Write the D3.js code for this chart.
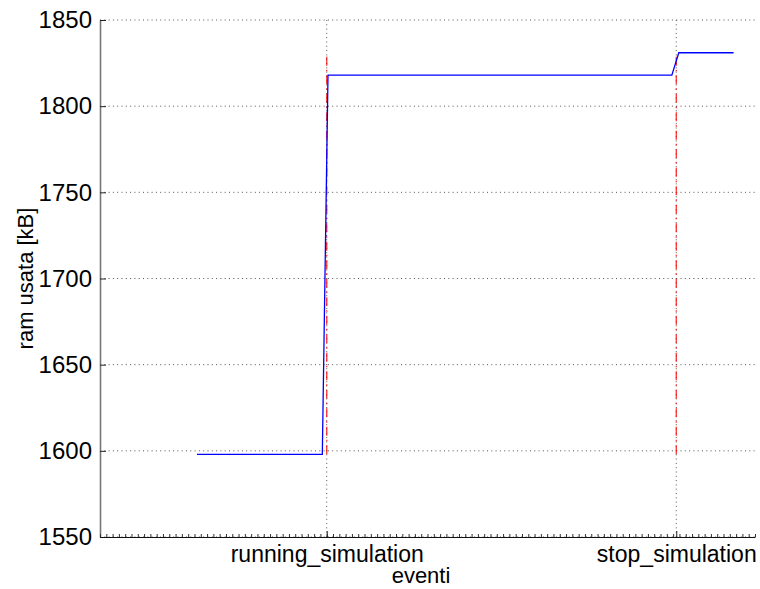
<!DOCTYPE html>
<html>
<head>
<meta charset="utf-8">
<script src="https://cdn.jsdelivr.net/npm/d3@7/dist/d3.min.js"></script>
<style>
  html, body { margin: 0; padding: 0; background: #fff; }
  svg { display: block; font-family: "Liberation Sans", Arial, Helvetica, sans-serif; }
</style>
</head>
<body>
<svg id="chart" width="760" height="589"></svg>
<script>
// Memory usage over time, with the simulation events marked on the x axis
const sampleTimes = [15.4, 35.3, 36.2, 90.8, 91.9, 100.6];
const ramUsed     = [1598, 1598, 1818, 1818, 1831, 1831];
const eventNames  = ["running_simulation", "stop_simulation"];
const eventTimes  = [36, 91.5];
const yTicks      = [1550, 1600, 1650, 1700, 1750, 1800, 1850];
const xDomain     = [0, 104];
const yDomain     = [1550, 1850];

const svg = d3.select("#chart");
const plotLeft = 100, plotRight = 755, plotTop = 20, plotBottom = 537;
const fontStack = "Liberation Sans, Arial, sans-serif";

const x = d3.scaleLinear().domain(xDomain).range([plotLeft, plotRight]);
const y = d3.scaleLinear().domain(yDomain).range([plotBottom, plotTop]);

// horizontal grid
svg.append("g")
  .selectAll("line")
  .data(yTicks)
  .join("line")
  .attr("x1", plotLeft).attr("x2", plotRight)
  .attr("y1", d => y(d)).attr("y2", d => y(d))
  .attr("stroke", "#555").attr("stroke-width", 1)
  .attr("stroke-dasharray", "1,3.3");

// vertical grid at event ticks
svg.append("g")
  .selectAll("line")
  .data(eventTimes)
  .join("line")
  .attr("x1", d => x(d)).attr("x2", d => x(d))
  .attr("y1", plotBottom).attr("y2", plotTop)
  .attr("stroke", "#555").attr("stroke-width", 1)
  .attr("stroke-dasharray", "1,3.3");

// event markers spanning the data range
const yMin = d3.min(ramUsed), yMax = d3.max(ramUsed);
svg.append("g")
  .selectAll("line")
  .data(eventTimes)
  .join("line")
  .attr("x1", d => x(d)).attr("x2", d => x(d))
  .attr("y1", y(yMin)).attr("y2", y(yMax))
  .attr("stroke", "#f00").attr("stroke-width", 1.3)
  .attr("stroke-opacity", 0.8)
  .attr("stroke-dasharray", "9,4,1.5,4");

// memory trace
svg.append("path")
  .datum(sampleTimes.map((t, i) => [t, ramUsed[i]]))
  .attr("fill", "none")
  .attr("stroke", "#00f")
  .attr("stroke-width", 1.3)
  .attr("d", d3.line().x(d => x(d[0])).y(d => y(d[1])));

// y axis
const yAxis = d3.axisLeft(y).tickValues(yTicks).tickFormat(d3.format("d"))
  .tickSizeInner(-6).tickSizeOuter(0).tickPadding(8);
const gy = svg.append("g").attr("transform", `translate(${plotLeft},0)`).call(yAxis);
gy.select(".domain").attr("stroke", "#777").attr("stroke-width", 1.6);
gy.selectAll(".tick line").attr("stroke", "#222");
gy.selectAll("text").attr("font-size", 24).attr("fill", "#000")
  .attr("font-family", fontStack);

// x axis: minor ticks then event ticks
const minor = d3.range(Math.ceil(xDomain[0]), xDomain[1] + 0.001, 1);
const gm = svg.append("g").attr("transform", `translate(0,${plotBottom})`)
  .call(d3.axisBottom(x).tickValues(minor).tickSizeInner(-3).tickSizeOuter(0).tickFormat(""));
gm.select(".domain").remove();
gm.selectAll(".tick line").attr("stroke", "#333");

const gx = svg.append("g").attr("transform", `translate(0,${plotBottom})`)
  .call(d3.axisBottom(x).tickValues(eventTimes).tickFormat((d, i) => eventNames[i])
    .tickSizeInner(-6).tickSizeOuter(0).tickPadding(9));
gx.select(".domain").attr("stroke", "#111").attr("stroke-width", 1.2);
gx.selectAll(".tick line").attr("stroke", "#222");
gx.selectAll("text").attr("font-size", 23).attr("fill", "#000")
  .attr("font-family", fontStack);

// axis titles
svg.append("text")
  .attr("x", 421).attr("y", 583)
  .attr("text-anchor", "middle")
  .attr("font-size", 22)
  .text("eventi");

svg.append("text")
  .attr("transform", `translate(33,${(plotTop + plotBottom) / 2}) rotate(-90)`)
  .attr("text-anchor", "middle")
  .attr("font-size", 22)
  .text("ram usata [kB]");
</script>
</body>
</html>
